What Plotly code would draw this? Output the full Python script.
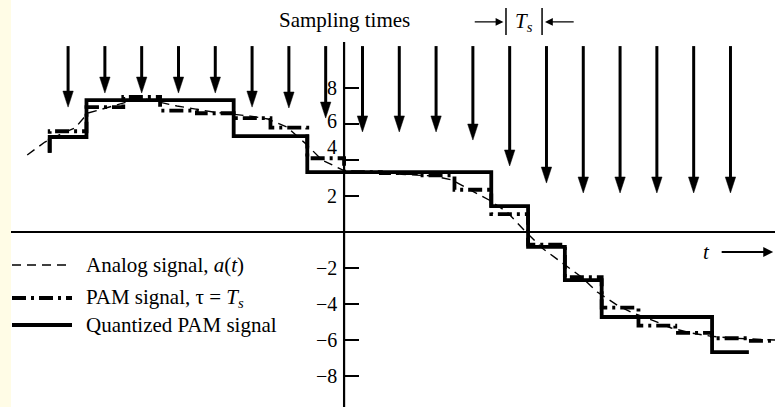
import plotly.graph_objects as go

# ---------------- data ----------------
# sample instants (units of Ts, y-axis at t = 0)
sample_t = [-7.5, -6.5, -5.5, -4.5, -3.5, -2.5, -1.5, -0.5, 0.5, 1.5,
            2.5, 3.5, 4.5, 5.5, 6.5, 7.5, 8.5, 9.5, 10.5]
# tip level of each "sampling time" arrow
arrow_tips = [6.94, 7.72, 7.72, 7.72, 7.72, 6.94, 6.89, 6.33, 5.56, 5.56,
              5.56, 5.11, 3.67, 2.72, 2.17, 2.17, 2.17, 2.17, 2.17]
arrow_top = 10.33

# analog signal a(t)
analog_t = [-8.61, -8.32, -8.13, -7.64, -7.31, -6.96, -6.41, -5.52, -4.54, -3.56,
            -2.55, -2.07, -1.55, -1.06, -0.60, -0.03, 0.43, 1.44, 2.45, 2.93,
            3.45, 3.94, 4.43, 4.89, 5.38, 5.90, 6.45, 6.88, 7.42, 7.85,
            8.37, 8.89, 9.43, 9.95, 10.49, 11.71]
analog_y = [4.28, 4.72, 5.00, 5.50, 5.78, 6.61, 6.94, 7.44, 7.00, 6.67,
            6.44, 6.28, 5.83, 4.94, 4.00, 3.44, 3.33, 3.22, 3.11, 2.89,
            2.33, 1.78, 1.11, 0.11, -0.89, -1.67, -2.50, -3.33, -4.06, -4.50,
            -4.89, -5.33, -5.61, -5.78, -5.89, -6.00]

# flat-top PAM signal (tau = Ts); last pulse runs past the last arrow
pam_t = sample_t + [11.5]
pam_values = [5.60, 6.94, 7.50, 6.75, 6.60, 6.33, 5.80, 4.10, 3.33, 3.28,
              3.15, 2.35, 1.00, -0.70, -2.50, -4.20, -5.20, -5.60, -5.90, -6.05]
# quantized PAM signal
quant_values = [5.28, 7.33, 7.33, 7.33, 7.33, 5.33, 5.33, 3.33, 3.33, 3.33,
                3.33, 3.33, 1.44, -0.83, -2.67, -4.72, -4.72, -4.72, -6.67]
lead_in_level = 4.4

y_tick_vals = [-8, -6, -4, -2, 2, 4, 6, 8]
y_tick_text = ["−8", "−6", "−4", "−2", "2", "4", "6", "8"]

legend_labels = ["Analog signal, <i>a</i>(<i>t</i>)",
                 "PAM signal, τ = <i>T<sub>s</sub></i>",
                 "Quantized PAM signal"]

# ---------------- layout constants ----------------
W, H = 775, 407
xr = [-9.35, 11.71]
yr = [-9.72, 12.89]
FONT = "Liberation Serif"
FS = 21


def steps(centers, values, lead=None, width=1.0):
    xs, ys = [], []
    if lead is not None:
        xs.append(centers[0] - width / 2)
        ys.append(lead)
    for c, v in zip(centers, values):
        xs += [c - width / 2, c + width / 2]
        ys += [v, v]
    return xs, ys


fig = go.Figure()

# analog
fig.add_trace(go.Scatter(x=analog_t, y=analog_y, mode="lines",
                         line=dict(color="black", width=1.4, dash="9px,6px"),
                         name="Analog signal", showlegend=False))
# PAM
px, py = steps(pam_t, pam_values, lead=lead_in_level)
fig.add_trace(go.Scatter(x=px, y=py, mode="lines",
                         line=dict(color="black", width=3.8, dash="14px,5px,3px,5px"),
                         name="PAM signal", showlegend=False))
# quantized PAM
qx, qy = steps(sample_t, quant_values, lead=lead_in_level)
fig.add_trace(go.Scatter(x=qx, y=qy, mode="lines",
                         line=dict(color="black", width=3.8),
                         name="Quantized PAM signal", showlegend=False))

# sampling-time arrows: shafts and filled heads
px_per_x = W / (xr[1] - xr[0])
px_per_y = H / (yr[1] - yr[0])
head_len = 16 / px_per_y
head_hw = 5.2 / px_per_x
sx, sy, hx, hy = [], [], [], []
for t, tip in zip(sample_t, arrow_tips):
    sx += [t, t, None]
    sy += [arrow_top, tip + head_len * 0.8, None]
    hx += [t - head_hw, t + head_hw, t, t - head_hw, None]
    hy += [tip + head_len, tip + head_len, tip, tip + head_len, None]
fig.add_trace(go.Scatter(x=sx, y=sy, mode="lines", line=dict(color="black", width=3),
                         showlegend=False, hoverinfo="skip"))
fig.add_trace(go.Scatter(x=hx, y=hy, mode="lines", fill="toself", fillcolor="black",
                         line=dict(color="black", width=0.5), showlegend=False,
                         hoverinfo="skip"))

shapes = []
# left cream strip of the scanned page
shapes.append(dict(type="rect", xref="paper", yref="paper", x0=0, x1=11 / W, y0=0, y1=1,
                   fillcolor="#FFFCE6", line=dict(width=0), layer="below"))
# axes
shapes.append(dict(type="line", xref="paper", yref="y", x0=11 / W, x1=1, y0=0, y1=0,
                   line=dict(color="black", width=2)))
shapes.append(dict(type="line", xref="x", yref="y", x0=0, x1=0, y0=10.56, y1=yr[0],
                   line=dict(color="black", width=2.2)))
# Ts marker bars
for xb in (4.40, 5.38):
    shapes.append(dict(type="line", xref="x", yref="y", x0=xb, x1=xb, y0=12.44, y1=10.94,
                       line=dict(color="black", width=1.5)))
# legend sample lines
leg_rows = [265, 298, 325]
leg_styles = [dict(width=1.4, dash="9px,6px"),
              dict(width=3.8, dash="14px,5px,3px,5px"),
              dict(width=3.8)]
for row, st in zip(leg_rows, leg_styles):
    yy = 1 - row / H
    shapes.append(dict(type="line", xref="paper", yref="paper", x0=12 / W, x1=72 / W,
                       y0=yy, y1=yy, line=dict(color="black", **st)))

annotations = []
for row, lab in zip(leg_rows, legend_labels):
    annotations.append(dict(xref="paper", yref="paper", x=84 / W, y=1 - row / H,
                            text=lab, showarrow=False, xanchor="left", yanchor="middle",
                            font=dict(family=FONT, size=FS, color="black")))
# y tick labels (the "4" sits above its tick in the original)
for v, txt in zip(y_tick_vals, y_tick_text):
    annotations.append(dict(x=0, y=v, xref="x", yref="y", text=txt, showarrow=False,
                            xanchor="right", yanchor="middle", xshift=-5,
                            yshift=13 if v == 4 else (3 if v == 6 else 0),
                            font=dict(family=FONT, size=FS - 1, color="black")))
annotations.append(dict(x=0, y=11.78, xref="x", yref="y", text="Sampling times",
                        showarrow=False, xanchor="center", yanchor="middle",
                        font=dict(family=FONT, size=FS, color="black")))
annotations.append(dict(x=4.89, y=11.67, xref="x", yref="y", text="<i>T<sub>s</sub></i>",
                        showarrow=False, xanchor="center", yanchor="middle",
                        font=dict(family=FONT, size=FS, color="black")))
for tip_x, tail_x in ((4.33, 3.51), (5.46, 6.28)):
    annotations.append(dict(x=tip_x, y=11.67, ax=tail_x, ay=11.67, xref="x", yref="y",
                            axref="x", ayref="y", text="", showarrow=True,
                            arrowhead=2, arrowsize=1.3, arrowwidth=1.2, arrowcolor="black"))
annotations.append(dict(x=9.86, y=-1.11, xref="x", yref="y", text="<i>t</i>",
                        showarrow=False, xanchor="center", yanchor="middle",
                        font=dict(family=FONT, size=FS, color="black")))
annotations.append(dict(x=11.66, y=-1.11, ax=10.22, ay=-1.11, xref="x", yref="y",
                        axref="x", ayref="y", text="", showarrow=True,
                        arrowhead=2, arrowsize=1.1, arrowwidth=1.8, arrowcolor="black"))

fig.update_layout(
    width=W, height=H,
    margin=dict(l=0, r=0, t=0, b=0),
    paper_bgcolor="white", plot_bgcolor="white",
    showlegend=False,
    shapes=shapes, annotations=annotations,
    xaxis=dict(range=xr, visible=False, fixedrange=True),
    yaxis=dict(range=yr, anchor="free", position=(0 - xr[0]) / (xr[1] - xr[0]),
               showline=False, showgrid=False, zeroline=False,
               ticks="inside", ticklen=14, tickwidth=1.5, tickcolor="black",
               tickvals=y_tick_vals, showticklabels=False,
               fixedrange=True),
)

fig.write_html("out.html", config={"displayModeBar": False},
               post_script="document.body.style.margin='0';")
